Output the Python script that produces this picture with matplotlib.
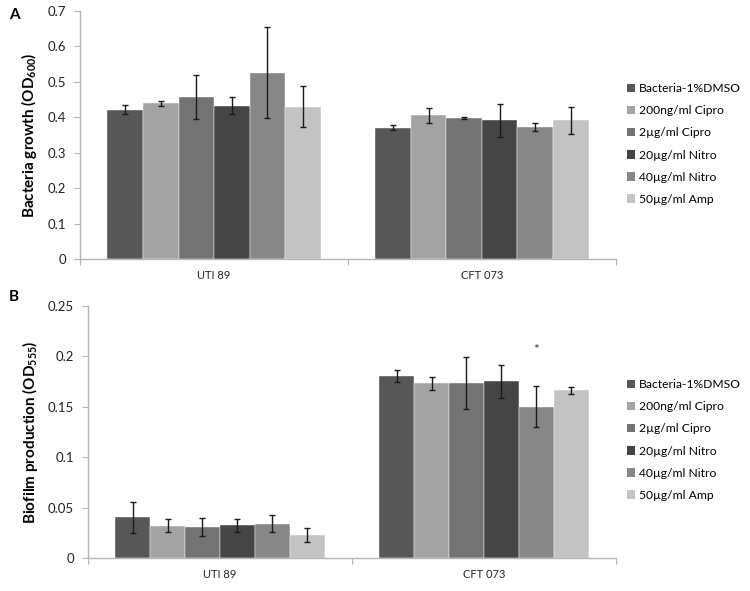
import matplotlib
matplotlib.use("Agg")
import matplotlib.pyplot as plt
import numpy as np
from matplotlib.patches import Patch

plt.rcParams['font.family'] = ['Lato', 'DejaVu Sans']
plt.rcParams['mathtext.fontset'] = 'custom'
plt.rcParams['mathtext.rm'] = 'Lato'
plt.rcParams['mathtext.bf'] = 'Lato:bold'
plt.rcParams['mathtext.default'] = 'bf'

strains = ["UTI 89", "CFT 073"]
treatments = ["Bacteria-1%DMSO", "200ng/ml Cipro", "2\u00b5g/ml Cipro",
              "20\u00b5g/ml Nitro", "40\u00b5g/ml Nitro", "50\u00b5g/ml Amp"]
colors = ["#575757", "#a3a3a3", "#737373", "#454545", "#878787", "#c3c3c3"]

# panel A: growth, rows = treatments, cols = strains
growth = [[0.421, 0.371],
          [0.439, 0.405],
          [0.456, 0.398],
          [0.432, 0.391],
          [0.526, 0.372],
          [0.430, 0.391]]
growth_err = [[0.013, 0.008],
              [0.008, 0.020],
              [0.062, 0.003],
              [0.024, 0.046],
              [0.128, 0.011],
              [0.057, 0.039]]

# panel B: biofilm
biofilm = [[0.0405, 0.180],
           [0.0322, 0.173],
           [0.0306, 0.173],
           [0.0323, 0.175],
           [0.0342, 0.150],
           [0.0228, 0.166]]
biofilm_err = [[0.0155, 0.006],
               [0.0068, 0.0066],
               [0.0087, 0.0257],
               [0.0068, 0.0166],
               [0.0080, 0.0200],
               [0.0073, 0.0030]]

fig = plt.figure(figsize=(7.5, 5.91), dpi=100)
axA = fig.add_axes([0.1067, 0.5618, 0.7146, 0.4196])
axB = fig.add_axes([0.1173, 0.0558, 0.7040, 0.4269])

w = 0.1325
x = np.arange(len(strains))
grey = "#b4b4b4"


def draw(ax, vals, errs, ymax, step, ylabel, fmt):
    for i, t in enumerate(treatments):
        ax.bar(x + (i - 2.5) * w, vals[i], w, color=colors[i],
               edgecolor="white", linewidth=0.3,
               yerr=errs[i], capsize=2.5,
               error_kw=dict(ecolor="#1a1a1a", elinewidth=1, capthick=1))
    ax.set_xlim(-0.5, 1.5)
    ax.set_ylim(0, ymax)
    ticks = np.arange(0, ymax + step / 2, step)
    ax.set_yticks(ticks)
    ax.set_yticklabels([fmt(v) for v in ticks])
    ax.set_xticks([-0.5, 0.5, 1.5])
    ax.set_xticklabels([])
    ax.set_xticks(x, minor=True)
    ax.set_xticklabels(strains, minor=True)
    ax.tick_params(axis="x", which="minor", length=0, pad=8, labelsize=8, colors="#222222")
    ax.tick_params(axis="x", which="major", length=4, color=grey)
    ax.tick_params(axis="y", length=4, color=grey, labelsize=9.5, colors="#222222", pad=6)
    for s in ["top", "right"]:
        ax.spines[s].set_visible(False)
    for s in ["left", "bottom"]:
        ax.spines[s].set_color(grey)
        ax.spines[s].set_linewidth(1)
    ax.set_ylabel(ylabel, fontsize=11, fontweight="bold", labelpad=6)


def fmtA(v):
    return "0" if v == 0 else ("%.1f" % v)


def fmtB(v):
    return "0" if v == 0 else ("%g" % round(v, 2))


draw(axA, growth, growth_err, 0.7, 0.1, r"Bacteria growth (OD$_{600}$)", fmtA)
draw(axB, biofilm, biofilm_err, 0.25, 0.05, r"Biofilm production (OD$_{555}$)", fmtB)

axB.text(1 + 1.5 * w, 0.206, "*", ha="center", va="center", fontsize=10, color="#333333")

fig.text(0.012, 0.975, "A", fontsize=11, fontweight="bold", va="center")
fig.text(0.012, 0.497, "B", fontsize=11, fontweight="bold", va="center")

handles = [Patch(facecolor=c, edgecolor="none") for c in colors]
for yc in [1 - 144 / 591, 1 - 440 / 591]:
    fig.legend(handles, treatments, loc="center left",
               bbox_to_anchor=(0.836, yc), frameon=False, fontsize=8.7,
               handlelength=0.7, handleheight=0.7, handletextpad=0.3,
               labelspacing=0.92, borderpad=0, borderaxespad=0)

fig.savefig("out.png", dpi=100)
